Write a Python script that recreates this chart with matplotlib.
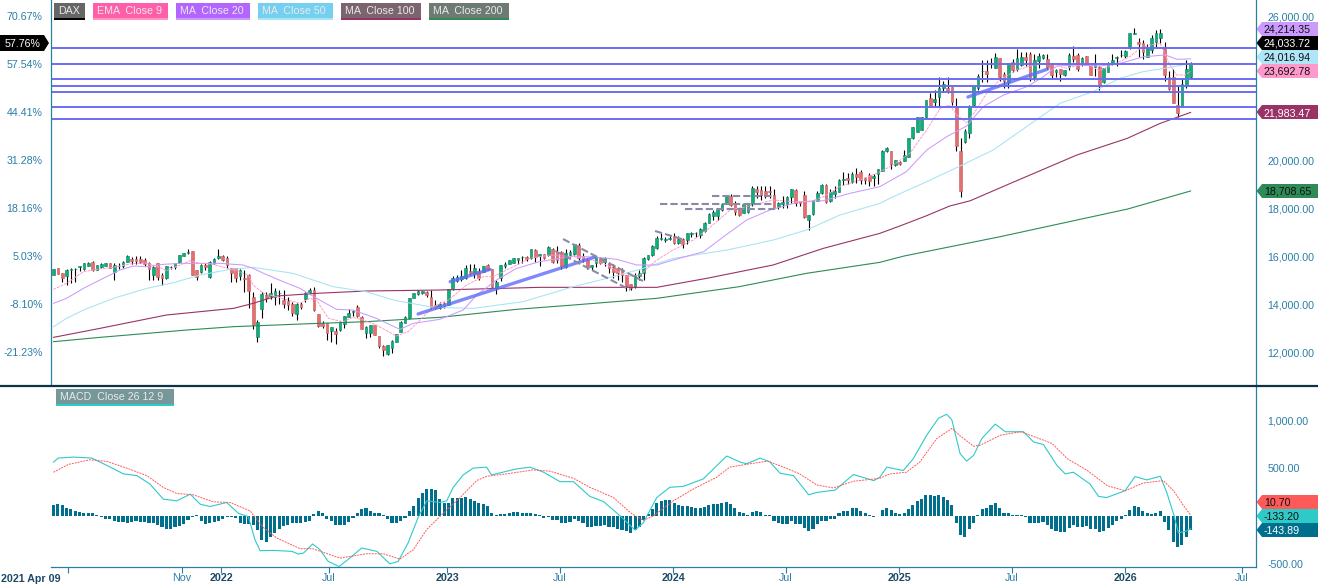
import matplotlib
matplotlib.use('Agg')
import matplotlib.pyplot as plt
from matplotlib.patches import Polygon, Rectangle
from matplotlib.lines import Line2D

W = 1318
H = 585
plt.rcParams['font.family'] = ['Liberation Sans', 'DejaVu Sans']

# weekly candles, week 0 = 2021 Apr 09
opens = [15210,15500,15280,15170,15410,15440,15550,15440,15600,15760,
15420,15530,15600,15690,15350,15580,15580,15760,15880,15880,
15880,15830,15690,15210,15690,15200,15070,15540,15560,15740,
15990,16110,16210,15400,15320,15620,15140,15690,15900,16000,
15900,15510,15480,15170,15100,15210,14300,12610,13790,14370,
14330,14310,14450,14170,14140,14000,13580,14020,14210,14440,
14580,13580,13190,13190,12880,12880,12920,13170,13470,13680,
13860,13470,12780,12800,13120,12660,12260,11920,12150,12430,
12850,13220,13400,14260,14400,14440,14510,14300,13950,13850,
14056,13958,14625,14958,15028,15083,15375,15278,15389,15347,
15625,15445,14653,15070,15600,15667,15722,15833,15940,15945,
15900,16250,16014,16083,16042,16278,16180,16180,15556,16042,
16083,16458,16000,15833,15556,15695,15903,15764,15722,15528,
15486,15417,15208,14833,14722,15167,15278,15861,16042,16320,
16700,16680,16720,16833,16556,16708,16667,16930,16950,16875,
17042,17389,17680,17667,17917,18167,18514,18194,17986,17806,
17847,18153,18792,18750,18708,18700,18542,18028,18167,18167,
18444,18750,18300,18542,17500,17736,18306,18639,18960,18292,
18583,18680,19170,19250,19100,19400,19500,19236,19375,19236,
19417,19555,20389,20375,19790,19930,19972,20139,20903,21180,
21250,21778,22570,22430,22611,22986,22986,23055,22222,20375,
20764,21139,22292,23014,23700,23708,23980,23847,24236,23583,
23264,24097,23792,23958,24278,24417,23472,24139,24264,24208,
24000,23680,23778,23540,23861,24333,24375,24000,24333,23958,
23890,23861,23264,23680,24000,24260,24360,24347,24653,25260,
24931,24889,24306,24583,24931,25069,24681,23444,23444,22292,
22222,23125,23445]
closes = [15460,15250,15070,15420,15440,15460,15570,15690,15720,15400,
15630,15670,15710,15510,15630,15600,15760,16000,15790,15800,
15740,15660,15440,15550,15140,15070,15580,15560,15690,16040,
16110,16180,15210,15140,15620,15530,15760,15880,15980,15830,
15630,15300,15070,15420,15030,14540,13120,13230,14420,14240,
14470,14540,14470,14000,13960,13610,14020,13890,14440,14580,
13750,13080,13080,12800,13030,12750,13250,13500,13610,13720,
13500,12970,13050,13110,12710,12250,12080,12290,12460,12750,
13260,13470,14260,14440,14550,14540,14380,13890,13850,14000,
13917,14611,15097,15139,15180,15500,15278,15514,15070,15583,
15417,14722,14930,15625,15650,15833,15900,15900,15960,15890,
16290,15975,16083,15900,16390,15764,15833,15583,16111,16180,
16486,15903,15833,15556,15625,15972,15722,15903,15486,15347,
15305,15208,14750,14653,15208,15278,15931,16042,16431,16764,
16740,16700,16740,16556,16694,16500,16944,16950,16970,17111,
17389,17750,17847,17958,18167,18514,18125,17847,17708,18167,
18194,18820,18653,18542,18514,18650,17986,18194,18264,18444,
18778,18194,18200,17639,17708,18333,18639,18960,18264,18680,
18708,19167,19220,19150,19400,19300,19170,19167,19140,19333,
19610,20375,20486,19820,20000,19833,20208,20903,21361,21778,
21778,22500,22250,22528,22986,23167,22847,22403,20583,18722,
21208,22250,23083,23500,23720,23583,24000,24305,23472,23305,
24028,23750,24236,24278,24167,23403,24167,24333,24375,23889,
23542,23750,23570,23750,24375,24222,23792,24236,23958,23542,
23958,23083,23819,24028,24167,24290,24380,24542,25278,25310,
24833,24514,24722,25069,25278,25306,23542,22944,22361,21944,
23153,23778,24034]
highs = [15470,15500,15300,15450,15480,15480,15580,15700,15730,15780,
15640,15700,15720,15720,15690,15690,15780,16030,15970,16000,
16000,15900,15730,15600,15720,15300,15600,15600,15700,16060,
16130,16290,16220,15420,15650,15690,15800,15900,16290,16050,
16000,15520,15500,15440,15400,15250,14500,13350,14500,14510,
14860,14650,14580,14600,14300,14100,14050,14100,14480,14650,
14700,13600,13280,13200,13040,13000,13280,13520,13800,13760,
13950,13500,13100,13130,13130,12670,12300,12310,12480,12770,
13280,13490,14270,14460,14570,14560,14530,14600,14150,14100,
14100,14630,15150,15220,15400,15630,15650,15650,15500,15600,
15680,15450,15000,15640,15730,15850,15920,15920,16000,15980,
16310,16290,16100,16100,16420,16330,16420,16200,16280,16230,
16500,16540,16120,15900,15640,16000,15950,15950,15750,15650,
15550,15500,15220,14850,15300,15400,15950,16060,16440,16850,
16970,16800,16820,16960,16850,16750,16950,17000,17000,17150,
17400,17780,17900,18000,18200,18540,18600,18300,18000,18200,
18220,18900,18900,18900,18900,18900,18800,18250,18500,18500,
18800,18800,18300,18700,17720,18350,18700,19000,19000,18800,
18900,19200,19500,19450,19500,19650,19600,19300,19450,19400,
19630,20400,20560,20390,20020,19950,20400,20920,21380,21800,
21800,22520,22800,22900,23440,23300,23440,23060,22600,20900,
21300,22280,23100,23600,24170,24170,24240,24450,24250,23650,
24050,24200,24610,24500,24480,24500,24400,24450,24430,24400,
24060,23800,23800,23770,24450,24750,24450,24300,24350,23970,
24420,23900,23830,24100,24400,24350,24600,24600,25300,25500,
25100,25000,24850,25200,25400,25450,24900,23700,23800,23100,
23400,24170,24100]
lows = [15200,15250,14930,14800,14860,14930,15390,15430,15580,15390,
15400,15500,15580,15480,15000,15440,15500,15740,15650,15680,
15700,15580,15000,15000,15000,14800,15060,15450,15450,15720,
15980,16100,15200,15000,15300,15400,15080,15650,15860,15800,
15500,14930,14900,15000,14500,13820,12950,12420,13400,14100,
14200,13960,14000,13820,13750,13500,13330,13800,14100,14430,
13700,13060,13000,12500,12400,12350,12880,12990,13450,13500,
13450,12950,12570,12640,12700,12160,11850,11870,11940,12400,
12840,13200,13380,14250,14380,14420,14300,13800,13800,13800,
13850,13950,14600,14900,14950,15060,15200,15100,15000,15330,
15400,14650,14430,14950,15490,15650,15700,15650,15700,15780,
15880,15750,15600,15880,16000,15700,15700,15450,15500,15950,
16060,15850,15750,15470,15400,15550,15680,15600,15300,15100,
15000,14900,14550,14600,14650,15000,15000,15840,16020,16300,
16650,16570,16650,16500,16500,16330,16500,16800,16800,16750,
17000,17370,17500,17500,17880,18150,18100,17700,17650,17780,
17800,18100,18400,18350,18400,18400,17950,17950,18000,18000,
18200,18100,18100,17600,17070,17700,18280,18600,18200,18250,
18400,18650,18950,19000,19050,19050,19000,19000,18900,18900,
19000,19530,20350,19640,19770,19800,19950,20120,20880,21160,
21230,21760,22200,22220,22230,22850,22780,22300,20390,18470,
20700,20900,22250,22900,23260,23250,23820,23820,23300,23000,
23000,23650,23700,23900,23900,23300,23350,23850,24200,23800,
23420,23450,23280,23500,23750,24100,23700,23900,23950,23530,
23500,22920,23220,23650,23950,23900,24300,24250,24640,25240,
24300,24220,24300,24450,24700,24850,23300,22900,22360,21800,
22220,23000,23400]

# moving averages, read at the weeks where they bend
ema9_w = [0,3,6.9,10,13.8,18.4,21.5,23.8,26,29.2,31.5,33.8,36.8,41.5,44.9,46,48.4,51.4,54.5,56.8,59,60.6,63.3,66.7,69,71.4,74.4,79,81.7,83.7,87.5,
91,95.2,99,101.3,105.2,109.8,114.4,119.8,122.9,127.5,132,135.1,139,142.8,147.4,150.5,152.8,155.9,159.7,165.8,170.5,174.3,177.4,181.2,185.8,
189.7,193.5,197.3,201.2,204.3,206.5,208.1,210.4,212.3,215,218,222,225.8,229.6,233.4,238,241,244,248,250.4,252.6,255,257,258.8,260.7,262]
ema9_v = [14611,14861,15347,15444,15527,15694,15694,15583,15388,15625,15805,15694,15652,15416,15208,14791,14444,14305,14138,14027,14236,14166,13402,13263,13444,13333,13124,12666,12846,13194,13888,
14167,14792,15139,15139,15486,15903,16042,15972,15903,15625,15139,15208,15833,16250,16667,17083,17431,17917,18056,18333,18264,18264,18472,18889,19167,
19444,19791,20278,21250,22153,22292,21875,21555,22014,22778,23333,23750,23958,24028,23819,24028,23722,23958,24305,24653,24792,24861,24028,23541,23541,23693]
ma20_w = [0,3,6.9,10.7,15.3,18.4,21.5,25.3,29.2,33.8,38.4,43.7,46,48.4,52.9,56.8,60.6,65.2,69,74.4,79.8,82.9,89,
94.4,97.5,102.1,106.7,112,119.8,125.2,129.8,134.4,139,142.8,149.8,154.4,159.7,165.1,172,177.4,183.5,190.4,
196.5,201.2,205.8,210.4,214.2,218.9,224.3,228.1,231.2,235.8,241.2,245.8,251.2,256.2,258.9,262]
ma20_v = [14027,14236,14652,15000,15416,15583,15555,15652,15694,15694,15694,15625,15486,15277,14930,14652,14236,13777,13749,13402,12944,13194,13360,
13750,14375,15000,15486,15764,16000,15945,15861,15625,15625,15833,16181,16806,17500,17917,18264,18305,18611,18889,
19513,20416,20972,21416,22222,22708,23055,23472,23917,23958,23917,24028,24305,24375,24194,24214]
ma50_w = [0,3,6.9,13.8,21.5,27.6,33.8,40.7,46,55.2,64.4,72,78.3,87.5,
96.7,108.2,119.8,127.5,135.1,142.8,155.2,165.9,173.5,181.2,190.4,
193.5,201.2,208.9,216.5,224.2,231.9,239.5,245.7,251,256,262]
ma50_v = [13055,13402,13749,14235,14652,14888,15208,15444,15527,15277,14722,14513,14166,13860,
13819,14097,14722,15069,15444,15903,16250,16667,17083,17708,18194,
18472,19097,19750,20416,21389,22361,22847,23403,23680,23820,24017]
ma100_w = [0,10.7,26,41.5,46,51.4,60.6,72,89,112,139,150.5,165.8,177.4,190.4,195,201,206.5,211.2,220.5,235.8,247.4,255,262]
ma100_v = [12610,12985,13541,13819,14027,14333,14444,14541,14583,14694,14694,15069,15625,16319,16944,17250,17667,18083,18300,19027,20208,20902,21527,21983]
ma200_w = [0,10.7,30.7,41.5,57,72,89,106.7,119.8,139,158,173.5,190.4,196,218,247.5,262]
ma200_v = [12430,12610,12916,13055,13166,13263,13444,13778,13958,14236,14722,15278,15736,16000,16800,17958,18709]

# horizontal levels and hand drawn lines from the chart
level_prices = [24667,24013,23375,23083,22833,22208,21708]
trend_w = [[84,124.8],[91.4,100.6],[210.7,229.1]]
trend_p = [[13583,15958],[14930,15444],[22625,23792]]
dash_w = [[117.4,135.8],[115.6,132.9],[138.6,145.5],[151.7,165.9],[139.8,165.9],[145.5,165.9]]
dash_p = [[16708,14958],[16208,14583],[17042,16667],[18514,18514],[18167,18167],[17958,17958]]

# MACD
macd_w = [0,1.1,4.6,8.8,12.3,16.1,19.2,22.2,25.3,28.4,31.5,33.8,36.1,39.9,42.6,44.9,46.4,47.6,50.6,54.9,56.4,57.6,59.7,61.4,63.3,65.8,68.3,71,74.5,77.5,79.4,81.7,84,86,
89.1,90.6,92.1,94.4,96.7,99.8,100.9,106.7,109.8,112.9,116.7,119.8,123.6,126.7,130.6,134,135.9,139,142,145.1,149.7,155.1,158.2,159.7,162.8,165.1,167.4,170.5,174,175.9,180.1,184.3,189,
190.4,192,195.8,198.1,201.2,203.9,205.8,207,208.9,210.4,212,213.9,217,219.3,223.5,225.8,228.1,231.2,233.1,235,238.8,240.8,242.7,246.9,249.2,251.9,255,256.5,258.1,259.2,261,262]
macd_v = [562,604,614,604,527,439,421,334,176,158,228,123,99,141,28,-7,-245,-361,-358,-368,-396,-386,-291,-351,-473,-526,-438,-333,-368,-498,-473,-280,-17,158,
141,158,299,428,499,509,428,491,509,457,358,358,204,151,0,-147,-70,193,299,309,386,625,562,544,604,562,446,421,221,246,270,432,369,
404,509,474,597,842,1018,1060,1000,649,572,632,807,958,878,878,772,744,527,439,456,334,204,193,263,411,376,414,246,18,-175,-158,-133]
signal_w = [0,3.4,8.4,12.3,17.3,21.5,25.3,28.4,32.2,36.8,40.7,45.3,48.4,51.4,56.8,59.7,66,72.2,76,79.8,82.9,86,
89.1,93.7,97.5,99.8,104.4,110.6,114.4,119.8,123.6,129,133.2,135.9,138.2,142.8,147.4,152.8,155.8,160.4,164.6,168.8,171.9,175.9,179.7,184.3,
190.4,192.7,196.5,199.6,203.5,207,208.9,212,213.5,218.2,222.8,226.7,230.1,233.6,238.2,242.8,246.9,251.1,255.7,258.1,260.4,262]
signal_v = [456,537,586,569,492,421,298,235,221,148,141,53,-122,-228,-340,-340,-438,-393,-393,-449,-351,-140,
-2,193,369,414,439,481,467,393,299,193,25,-45,0,158,281,404,509,544,572,499,439,323,292,362,
393,439,456,562,807,913,835,727,737,842,878,814,755,597,474,316,263,344,369,263,106,11]
hist = [112,123,112,81,70,53,46,35,28,28,7,-15,-28,-35,-53,-60,-63,-70,-63,-53,
-60,-60,-70,-77,-95,-112,-133,-140,-116,-105,-88,-42,-11,7,-53,-88,-77,-63,-53,-32,
-7,-14,-25,-70,-88,-80,-98,-147,-245,-267,-217,-182,-140,-105,-95,-77,-70,-74,-60,-49,
21,49,28,-35,-53,-95,-95,-95,-63,-25,28,70,81,49,35,28,7,-35,-70,-77,
-56,-25,49,105,189,239,281,281,270,175,133,140,186,186,186,196,175,161,133,123,
102,28,7,18,18,28,39,39,28,28,35,18,7,-18,-14,-42,-46,-77,-77,-63,
-35,-56,-70,-112,-116,-105,-105,-95,-112,-119,-130,-144,-161,-179,-147,-119,-46,18,70,133,
154,165,165,140,119,102,102,91,81,81,91,112,123,123,133,144,123,81,39,28,
7,39,49,39,14,7,-56,-74,-88,-88,-56,-84,-88,-126,-161,-130,-88,-49,-56,-35,
-28,35,49,56,81,81,49,28,7,-11,-4,63,88,63,35,21,28,70,112,158,
182,217,217,210,217,203,168,112,-77,-200,-221,-133,-77,7,77,88,112,133,88,28,
28,7,14,10,-7,-77,-77,-70,-63,-98,-140,-158,-168,-168,-122,-98,-116,-112,-109,-140,
-133,-168,-154,-122,-91,-52,-35,7,63,105,91,49,28,21,35,49,-63,-147,-266,-326,
-298,-221,-144]

price_ticks = [26000,20000,18000,16000,14000,12000]
price_labels = ['26,000.00','20,000.00','18,000.00','16,000.00','14,000.00','12,000.00']
pct_ticks = [26000,24000,22000,20000,18000,16000,14000,12000]
pct_labels = ['70.67%','57.54%','44.41%','31.28%','18.16%','5.03%','-8.10%','-21.23%']
macd_ticks = [1000,500,-500]
macd_labels = ['1,000.00','500.00','-500.00']
date_ticks = [3.4,29.6,38.6,63.5,90.7,116.7,142.8,168.8,194.8,220.8,246.9,273.8]
date_labels = ['','Nov','2022','Jul','2023','Jul','2024','Jul','2025','Jul','2026','Jul']

blue = '#2a7ea6'
dark = '#1c4a66'
wk = range(len(closes))

fig = plt.figure(figsize=(W/100,H/100),dpi=100)
ax = fig.add_axes([51/W,1-385/H,(1256-51)/W,385/H])
ax2 = fig.add_axes([51/W,1-567/H,(1256-51)/W,(567-387)/H])

# candles
for i in wk:
    up = closes[i]>=opens[i]
    col = '#0fae7c' if up else '#e46f6f'
    edge = '#0a7f5c' if up else '#c95a5a'
    ax.vlines(i,lows[i],highs[i],color='black',lw=0.8,zorder=2)
    ax.bar(i,abs(closes[i]-opens[i]),bottom=min(opens[i],closes[i]),width=0.62,color=col,edgecolor=edge,lw=0.4,zorder=3)

ax.plot(ma200_w,ma200_v,color='#2e8b57',lw=0.8,zorder=4)
ax.plot(ma100_w,ma100_v,color='#993366',lw=0.8,zorder=4)
ax.plot(ma50_w,ma50_v,color='#a6e3f4',lw=0.75,zorder=4)
ax.plot(ma20_w,ma20_v,color='#cc99ff',lw=0.75,zorder=4)
ax.plot(ema9_w,ema9_v,color='#ff9cc8',lw=0.7,ls=(0,(3,1)),zorder=4)

for p in level_prices:
    ax.axhline(p,color='#6c6cf2',lw=1.4,zorder=5)
for w,p in zip(trend_w,trend_p):
    ax.plot(w,p,color='#5f6cf5',lw=2.4,alpha=0.8,zorder=5,solid_capstyle='round')
for w,p in zip(dash_w,dash_p):
    ax.plot(w,p,color='#8a8aa8',lw=1.5,ls=(0,(3.5,1.5)),zorder=5)

ax.set_xlim(-0.58,277.07)
ax.set_ylim(10625,26667)
ax.set_xticks([])
ax.yaxis.tick_right()
ax.set_yticks(price_ticks,labels=price_labels)
ax.tick_params(axis='y',length=0,pad=8,labelsize=7.7,labelcolor=blue)
for l in ax.get_yticklabels():
    l.set_ha('left')
sec = ax.secondary_yaxis('left')
sec.set_yticks(pct_ticks,labels=pct_labels)
sec.tick_params(axis='y',length=0,pad=6,labelsize=7.7,labelcolor=blue)
sec.spines['left'].set_visible(False)
for s in ax.spines.values():
    s.set_visible(False)

# MACD panel
ax2.bar(list(wk),hist,width=0.72,color='#006f8e',zorder=2)
ax2.plot(macd_w,macd_v,color='#2ecac8',lw=0.8,zorder=3)
ax2.plot(signal_w,signal_v,color='#ff5a5a',lw=0.7,ls=(0,(2,1)),zorder=3)
ax2.set_xlim(-0.58,277.07)
ax2.set_ylim(-531,1344)
ax2.yaxis.tick_right()
ax2.set_yticks(macd_ticks,labels=macd_labels)
ax2.tick_params(axis='y',length=0,pad=8,labelsize=7.7,labelcolor=blue)
for l in ax2.get_yticklabels():
    l.set_ha('left')
ax2.set_xticks(date_ticks,labels=date_labels)
ax2.tick_params(axis='x',length=4,width=0.8,color=blue,pad=0.5,labelsize=7.7,labelcolor=blue)
for l in ax2.get_xticklabels():
    if l.get_text().startswith('20'):
        l.set_fontweight('bold')
        l.set_color(dark)
for name,s in ax2.spines.items():
    s.set_visible(name=='bottom')
ax2.spines['bottom'].set_color(blue)
ax2.spines['bottom'].set_linewidth(0.9)


def fx(x):
    return x/W


def fy(y):
    return 1-y/H


# frame lines
fig.add_artist(Line2D([fx(51),fx(51)],[fy(0),fy(385)],color=blue,lw=0.9))
fig.add_artist(Line2D([fx(1256),fx(1256)],[fy(0),fy(567)],color=blue,lw=0.9))
fig.add_artist(Line2D([0,1],[fy(385.5),fy(385.5)],color='#0f3244',lw=1.6))
fig.text(fx(1),fy(579),'2021 Apr 09',fontsize=7.7,color=dark,fontweight='bold',ha='left',va='center')


def legend_box(x0,x1,y0,y1,txt,bg,under):
    fig.add_artist(Rectangle((fx(x0),fy(y1-1)),(x1-x0)/W,(y1-1-y0)/H,transform=fig.transFigure,fc=bg,ec='none'))
    fig.add_artist(Rectangle((fx(x0),fy(y1+0.5)),(x1-x0)/W,1.5/H,transform=fig.transFigure,fc=under,ec='none'))
    fig.text(fx(x0+4),fy((y0+y1-1)/2),txt,fontsize=7.7,color='#eaeaea',ha='left',va='center_baseline')


legend_box(54,85,3,19,'DAX','#666666','#000000')
legend_box(93,168,3,19,'EMA  Close 9','#ff5fa8','#ff94c4')
legend_box(176,250,3,19,'MA  Close 20','#b366ff','#cc99f5')
legend_box(258,333,3,19,'MA  Close 50','#74d0f0','#a8e4f4')
legend_box(341,421,3,19,'MA  Close 100','#7a6470','#993366')
legend_box(429,509,3,19,'MA  Close 200','#6e7b72','#2e8b57')
legend_box(56,174,389,405,'MACD  Close 26 12 9','#75979a','#2ecac8')


def right_tag(y,txt,bg,fg):
    pts = [(1256.5,y),(1262,y-7),(1318,y-7),(1318,y+7),(1262,y+7)]
    fig.add_artist(Polygon([(fx(a),fy(b)) for a,b in pts],transform=fig.transFigure,fc=bg,ec='none'))
    fig.text(fx(1264),fy(y),txt,fontsize=7.7,color=fg,ha='left',va='center_baseline')


right_tag(29,'24,214.35','#cc99ff','#101010')
right_tag(43,'24,033.72','#000000','#ffffff')
right_tag(57,'24,016.94','#aee5f7','#101010')
right_tag(71,'23,692.78','#ff99cc','#101010')
right_tag(112,'21,983.47','#993366','#ffffff')
right_tag(191,'18,708.65','#2e8b57','#101010')
right_tag(502,'10.70','#ff5a5a','#101010')
right_tag(516,'-133.20','#2ecac8','#101010')
right_tag(530,'-143.89','#006f8e','#ffffff')

pts = [(0,35),(44,35),(49,43),(44,51),(0,51)]
fig.add_artist(Polygon([(fx(a),fy(b)) for a,b in pts],transform=fig.transFigure,fc='#000000',ec='none'))
fig.text(fx(5),fy(43),'57.76%',fontsize=7.7,color='#ffffff',ha='left',va='center_baseline')

fig.savefig('out.png',dpi=100)
